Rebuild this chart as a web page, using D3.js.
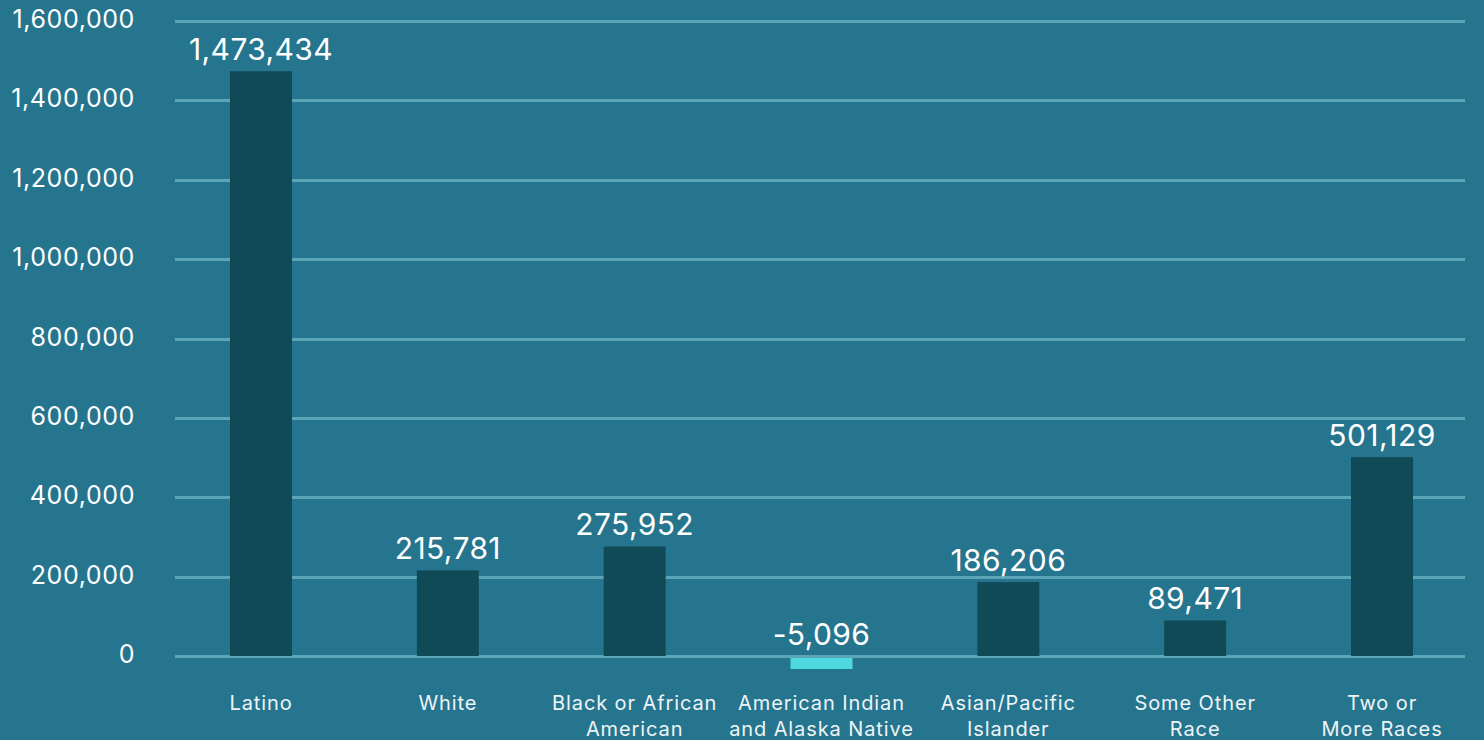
<!DOCTYPE html>
<html>
<head>
<meta charset="utf-8">
<script src="https://cdn.jsdelivr.net/npm/d3@7"></script>
<style>
  html, body { margin: 0; padding: 0; background: #25758f; overflow: hidden; }
  svg { display: block; font-family: "Inter", "Open Sans", sans-serif; }
</style>
</head>
<body>
<svg id="chart" width="1484" height="740"></svg>
<script>
const categories = [
  ["Latino"],
  ["White"],
  ["Black or African", "American"],
  ["American Indian", "and Alaska Native"],
  ["Asian/Pacific", "Islander"],
  ["Some Other", "Race"],
  ["Two or", "More Races"]
];
const values = [1473434, 215781, 275952, -5096, 186206, 89471, 501129];
const yTicks = [0, 200000, 400000, 600000, 800000, 1000000, 1200000, 1400000, 1600000];

const W = 1484, H = 740;
const gridLeft = 175, gridRight = 1465;
const barW = 62;
const svg = d3.select("#chart");

const keys = categories.map(c => c.join(" "));
const x = d3.scalePoint().domain(keys).range([261, 1382]);
const y = d3.scaleLinear().domain([0, 1600000]).range([656, 21]);

svg.append("rect").attr("width", W).attr("height", H).attr("fill", "#25758f");

// gridlines
svg.append("g").selectAll("line").data(yTicks).join("line")
  .attr("x1", gridLeft).attr("x2", gridRight)
  .attr("y1", d => Math.round(y(d)) + 0.5).attr("y2", d => Math.round(y(d)) + 0.5)
  .attr("stroke", "#5ba5b7").attr("stroke-width", 3);

// y axis labels
const fmt = v => d3.format(",")(v).replace("\u2212", "-");
svg.append("g").selectAll("text").data(yTicks).join("text")
  .attr("x", 135).attr("y", d => y(d) - 2)
  .attr("dy", "0.36em")
  .attr("text-anchor", "end")
  .attr("font-size", 25)
  .attr("letter-spacing", 0.6)
  .attr("fill", "#ffffff")
  .text(d => fmt(d));

// bars
const zero = y(0);
svg.append("g").selectAll("rect").data(values).join("rect")
  .attr("x", (d, i) => x(keys[i]) - barW / 2)
  .attr("width", barW)
  .attr("y", d => d >= 0 ? y(d) : zero + 2)
  .attr("height", d => d >= 0 ? zero - y(d) : Math.max(y(d) - zero, 11))
  .attr("fill", d => d >= 0 ? "#104a57" : "#4ed8e0");

// value labels
svg.append("g").selectAll("text").data(values).join("text")
  .attr("x", (d, i) => x(keys[i]))
  .attr("y", d => (d >= 0 ? y(d) : zero) - 11)
  .attr("text-anchor", "middle")
  .attr("font-size", 30)
  .attr("letter-spacing", 0.4)
  .attr("fill", "#ffffff")
  .text(d => fmt(d));

// x labels
const xl = svg.append("g").selectAll("text").data(categories).join("text")
  .attr("x", (d, i) => x(keys[i]))
  .attr("y", 710)
  .attr("text-anchor", "middle")
  .attr("font-size", 20)
  .attr("letter-spacing", 0.9)
  .attr("fill", "#eef4f6");
xl.selectAll("tspan").data(d => d).join("tspan")
  .attr("x", function() { return d3.select(this.parentNode).attr("x"); })
  .attr("dy", (d, i) => i === 0 ? 0 : 26)
  .text(d => d);
</script>
</body>
</html>
